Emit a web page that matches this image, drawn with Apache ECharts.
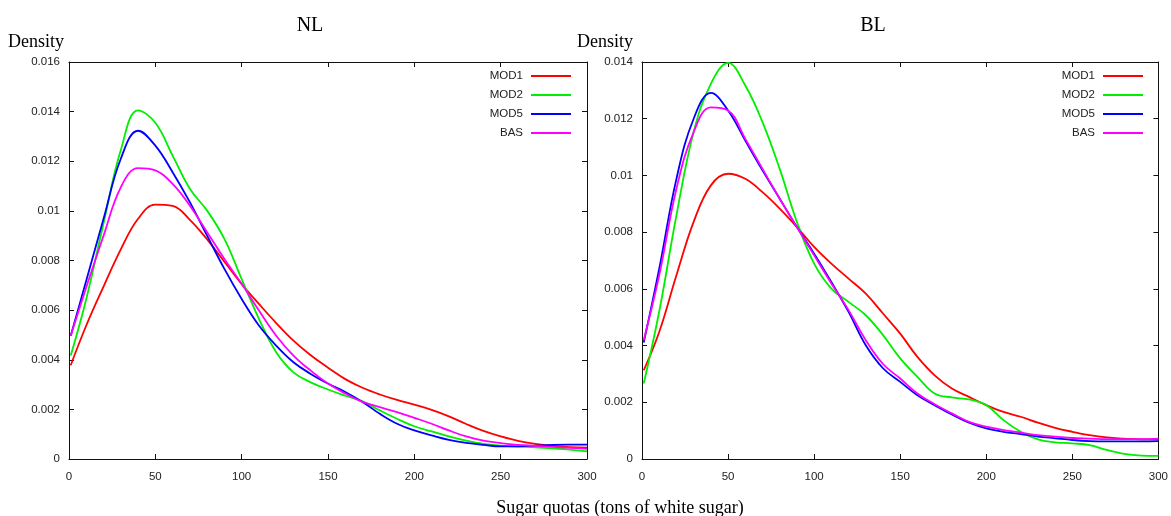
<!DOCTYPE html>
<html>
<head>
<meta charset="utf-8">
<script src="https://cdn.jsdelivr.net/npm/echarts@6/dist/echarts.min.js"></script>
<style>
html,body{margin:0;padding:0;background:#fff;}
#chart{width:1171px;height:516px;}
</style>
</head>
<body>
<div id="chart"></div>
<script>
// ---- data ----
var xValues = [1,10,20,30,40,50,60,70,80,90,100,110,120,130,140,150,160,170,180,190,200,210,220,230,240,250,260,270,280,290,300];
var seriesNames = ['MOD1','MOD2','MOD5','BAS'];
var seriesColors = ['#ff0000','#00ee00','#0000ff','#ff00ff'];
var panelTitles = ['NL','BL'];

var nlMOD1 = [0.00378,0.00538,0.00695,0.00845,0.00968,0.01025,0.01020,0.00964,0.00885,0.00795,0.00705,0.00625,0.00548,0.00477,0.00418,0.00368,0.00322,0.00287,0.00260,0.00238,0.00219,0.00198,0.00172,0.00141,0.00113,0.00091,0.00073,0.00061,0.00053,0.00048,0.00046];
var nlMOD2 = [0.00417,0.00645,0.00950,0.01245,0.01405,0.01355,0.01223,0.01089,0.01001,0.00887,0.00725,0.00565,0.00430,0.00349,0.00309,0.00280,0.00255,0.00232,0.00196,0.00162,0.00132,0.00111,0.00091,0.00074,0.00061,0.00054,0.00050,0.00047,0.00043,0.00038,0.00031];
var nlMOD5 = [0.00497,0.00719,0.00968,0.01210,0.01323,0.01263,0.01156,0.01035,0.00900,0.00766,0.00645,0.00538,0.00457,0.00390,0.00343,0.00304,0.00270,0.00230,0.00182,0.00142,0.00115,0.00095,0.00077,0.00065,0.00057,0.00051,0.00051,0.00054,0.00057,0.00058,0.00058];
var nlBAS  = [0.00497,0.00692,0.00900,0.01095,0.01172,0.01163,0.01109,0.01021,0.00914,0.00806,0.00706,0.00598,0.00497,0.00417,0.00356,0.00304,0.00264,0.00230,0.00209,0.00189,0.00166,0.00142,0.00115,0.00091,0.00074,0.00064,0.00057,0.00053,0.00049,0.00045,0.00041];

var blMOD1 = [0.00313,0.00448,0.00648,0.00836,0.00965,0.01006,0.00988,0.00941,0.00883,0.00818,0.00748,0.00689,0.00636,0.00583,0.00513,0.00442,0.00360,0.00295,0.00249,0.00219,0.00190,0.00166,0.00149,0.00128,0.00110,0.00096,0.00084,0.00076,0.00072,0.00069,0.00069];
var blMOD2 = [0.00266,0.00520,0.00859,0.01153,0.01323,0.01397,0.01317,0.01188,0.01023,0.00836,0.00689,0.00601,0.00554,0.00507,0.00437,0.00355,0.00290,0.00231,0.00217,0.00210,0.00190,0.00137,0.00096,0.00069,0.00059,0.00055,0.00049,0.00032,0.00018,0.00012,0.00011];
var blMOD5 = [0.00411,0.00671,0.00988,0.01200,0.01291,0.01229,0.01123,0.01018,0.00918,0.00818,0.00724,0.00624,0.00519,0.00401,0.00320,0.00272,0.00225,0.00190,0.00157,0.00128,0.00108,0.00096,0.00088,0.00079,0.00073,0.00067,0.00063,0.00062,0.00062,0.00062,0.00063];
var blBAS  = [0.00419,0.00648,0.00953,0.01153,0.01240,0.01229,0.01129,0.01023,0.00918,0.00818,0.00718,0.00619,0.00525,0.00419,0.00335,0.00284,0.00231,0.00193,0.00161,0.00131,0.00114,0.00102,0.00093,0.00084,0.00079,0.00074,0.00072,0.00070,0.00070,0.00070,0.00072];

var nlData = [nlMOD1, nlMOD2, nlMOD5, nlBAS];
var blData = [blMOD1, blMOD2, blMOD5, blBAS];
var yMax = [0.016, 0.014];

// ---- chart ----
var chart = echarts.init(document.getElementById('chart'), null, {renderer:'canvas'});
var sans = 'Liberation Sans, Arial, Helvetica, sans-serif';
var serif = 'Liberation Serif, Times New Roman, serif';
var grids = [
  {left:69, top:62, width:518, height:397},
  {left:642, top:62, width:518, height:397}
];
var axisLine = {show:true, onZero:false, lineStyle:{color:'#111', width:1}};
var tick = {show:true, inside:true, length:5, lineStyle:{color:'#111', width:1}};
var lbl = {color:'#222', fontFamily:sans, fontSize:11.5};

var xAxes = [], yAxes = [], series = [];
for (var g = 0; g < 2; g++) {
  xAxes.push({gridIndex:g, type:'value', min:0, max:300, interval:50, position:'bottom',
    axisLine:axisLine, axisTick:tick, splitLine:{show:false},
    axisLabel:Object.assign({margin:12}, lbl)});
  xAxes.push({gridIndex:g, type:'value', min:0, max:300, interval:50, position:'top',
    axisLine:axisLine, axisTick:tick, splitLine:{show:false}, axisLabel:{show:false}});
  yAxes.push({gridIndex:g, type:'value', min:0, max:yMax[g], interval:0.002, position:'left',
    axisLine:axisLine, axisTick:tick, splitLine:{show:false},
    axisLabel:Object.assign({margin:9}, lbl)});
  yAxes.push({gridIndex:g, type:'value', min:0, max:yMax[g], interval:0.002, position:'right',
    axisLine:axisLine, axisTick:tick, splitLine:{show:false}, axisLabel:{show:false}});
  var ds = g === 0 ? nlData : blData;
  for (var s = 0; s < 4; s++) {
    var pts = [];
    for (var i = 0; i < xValues.length; i++) pts.push([xValues[i], ds[s][i]]);
    series.push({
      name: seriesNames[s], type:'line', xAxisIndex:g*2, yAxisIndex:g*2,
      data: pts, smooth:0.4, symbol:'none', showSymbol:false,
      lineStyle:{color:seriesColors[s], width:1.8}, itemStyle:{color:seriesColors[s]},
      z: 2 + s, animation:false
    });
  }
}

function legend(rightPx) {
  return {
    orient:'vertical', align:'right', right:rightPx, top:70, padding:0,
    itemWidth:40, itemHeight:2, itemGap:7, icon:'rect',
    textStyle:{color:'#222', fontFamily:sans, fontSize:11.5, lineHeight:12, padding:[0,3,0,0]},
    data: seriesNames.slice(), selectedMode:false
  };
}

var option = {
  backgroundColor:'#fff',
  animation:false,
  grid: grids,
  xAxis: xAxes,
  yAxis: yAxes,
  legend: [legend(600), legend(28)],
  series: series,
  graphic: [
    {type:'text', x:310, y:26, style:{text:panelTitles[0], font:'20px ' + serif, fill:'#000', textAlign:'center', textVerticalAlign:'middle'}},
    {type:'text', x:873, y:26, style:{text:panelTitles[1], font:'20px ' + serif, fill:'#000', textAlign:'center', textVerticalAlign:'middle'}},
    {type:'text', x:8, y:42, style:{text:'Density', font:'18px ' + serif, fill:'#000', textAlign:'left', textVerticalAlign:'middle'}},
    {type:'text', x:577, y:42, style:{text:'Density', font:'18px ' + serif, fill:'#000', textAlign:'left', textVerticalAlign:'middle'}},
    {type:'text', x:620, y:508, style:{text:'Sugar quotas (tons of white sugar)', font:'18px ' + serif, fill:'#000', textAlign:'center', textVerticalAlign:'middle'}}
  ]
};
chart.setOption(option);
</script>
</body>
</html>
